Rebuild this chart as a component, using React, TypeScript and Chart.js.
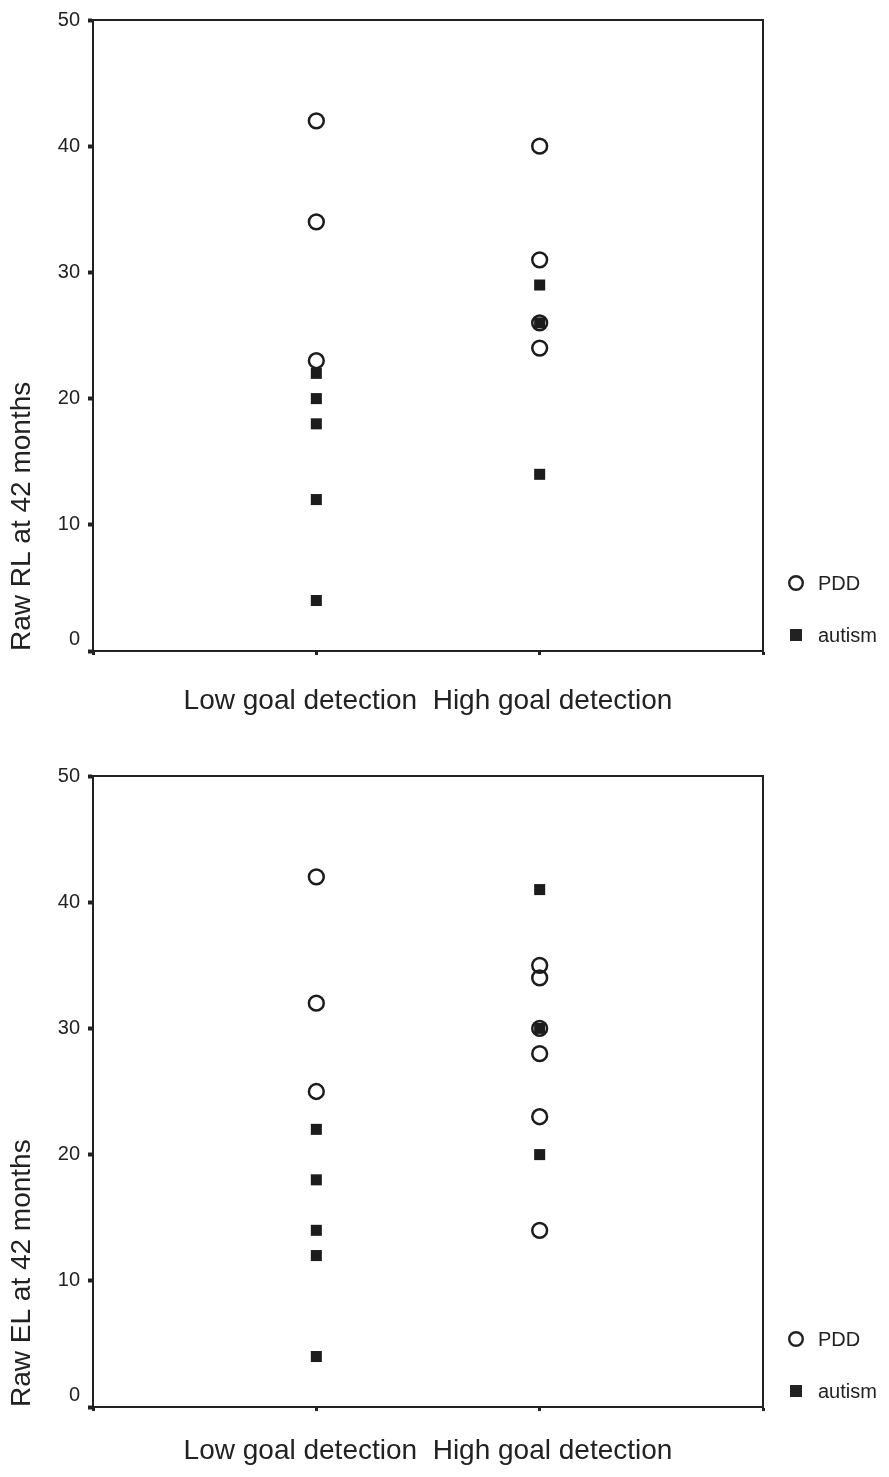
import React, { useEffect, useRef } from 'react';
import { Chart, registerables } from 'chart.js';

Chart.register(...registerables);

// ---- data ----
const categories = ['Low goal detection', 'High goal detection'];
const xAxisTitle = 'Low goal detection  High goal detection';
const seriesNames = ['PDD', 'autism'];
const yMin = 0;
const yMax = 50;
const yStep = 10;

const rlTitle = 'Raw RL at 42 months';
const rlPddLow = [42, 34, 23];
const rlPddHigh = [40, 31, 26, 24];
const rlAutismLow = [22, 20, 18, 12, 4];
const rlAutismHigh = [29, 26, 14];

const elTitle = 'Raw EL at 42 months';
const elPddLow = [42, 32, 25];
const elPddHigh = [35, 34, 30, 28, 23, 14];
const elAutismLow = [22, 18, 14, 12, 4];
const elAutismHigh = [41, 30, 20];

const FONT = "'Liberation Sans', Arial, sans-serif";
const INK = '#222222';

function toPoints(low: number[], high: number[]) {
  const groups = [low, high];
  const pts: { x: number; y: number }[] = [];
  groups.forEach((g, gi) => g.forEach((v) => pts.push({ x: gi + 1, y: v })));
  return pts;
}

const boxPlugin = {
  id: 'boxFrame',
  beforeDatasetsDraw(chart: any) {
    const { ctx, chartArea } = chart;
    ctx.save();
    ctx.strokeStyle = INK;
    ctx.lineWidth = 2;
    ctx.beginPath();
    ctx.moveTo(chartArea.left, chartArea.top);
    ctx.lineTo(chartArea.right, chartArea.top);
    ctx.lineTo(chartArea.right, chartArea.bottom);
    ctx.stroke();
    ctx.restore();
  },
};

const legendPlugin = {
  id: 'sideLegend',
  afterDraw(chart: any) {
    const { ctx, chartArea } = chart;
    const x = chartArea.right + 33;
    const rows = [chartArea.bottom - 68, chartArea.bottom - 16];
    ctx.save();
    ctx.font = `20px ${FONT}`;
    ctx.textBaseline = 'middle';
    ctx.textAlign = 'left';
    ctx.fillStyle = INK;
    // PDD
    ctx.beginPath();
    ctx.lineWidth = 2.4;
    ctx.strokeStyle = INK;
    ctx.arc(x, rows[0], 6.8, 0, Math.PI * 2);
    ctx.stroke();
    ctx.fillText(seriesNames[0], x + 22, rows[0] + 1);
    // autism
    ctx.fillRect(x - 6, rows[1] - 6, 12, 12);
    ctx.fillText(seriesNames[1], x + 22, rows[1] + 1);
    ctx.restore();
  },
};

type PanelProps = {
  title: string;
  pddLow: number[];
  pddHigh: number[];
  autismLow: number[];
  autismHigh: number[];
  height: number;
  xScaleHeight: number;
  titlePadBottom: number;
};

function Panel(props: PanelProps) {
  const ref = useRef<HTMLCanvasElement | null>(null);
  useEffect(() => {
    if (!ref.current) return;
    const chart = new Chart(ref.current, {
      type: 'scatter',
      data: {
        datasets: [
          {
            label: seriesNames[1],
            data: toPoints(props.autismLow, props.autismHigh),
            pointStyle: 'rect',
            pointRadius: 7.8,
            pointBorderWidth: 0,
            backgroundColor: '#1c1c1c',
            borderColor: '#1c1c1c',
          },
          {
            label: seriesNames[0],
            data: toPoints(props.pddLow, props.pddHigh),
            pointStyle: 'circle',
            pointRadius: 7.4,
            pointBorderWidth: 2.5,
            backgroundColor: 'rgba(0,0,0,0)',
            borderColor: '#1c1c1c',
          },
        ],
      },
      options: {
        responsive: false,
        animation: false,
        events: [],
        layout: { padding: { left: 0, top: 17, right: 126, bottom: 0 } },
        plugins: {
          legend: { display: false },
          tooltip: { enabled: false },
        },
        scales: {
          x: {
            type: 'linear',
            min: 0,
            max: categories.length + 1,
            afterBuildTicks: (scale: any) => {
              const t = [{ value: 0 }];
              categories.forEach((_, i) => t.push({ value: i + 1 }));
              t.push({ value: categories.length + 1 });
              scale.ticks = t;
            },
            afterFit: (scale: any) => {
              scale.height = props.xScaleHeight;
            },
            ticks: { callback: () => '', font: { size: 1 } },
            grid: {
              display: true,
              drawOnChartArea: false,
              drawTicks: true,
              tickLength: 4,
              tickWidth: 3,
              color: INK,
            },
            border: { display: true, width: 2, color: INK },
            title: {
              display: true,
              text: xAxisTitle,
              color: INK,
              font: { family: FONT, size: 28 },
              padding: { top: 0, bottom: props.titlePadBottom },
            },
          },
          y: {
            type: 'linear',
            min: yMin,
            max: yMax,
            ticks: {
              stepSize: yStep,
              color: INK,
              padding: 8,
              font: { family: FONT, size: 20 },
              callback: (v: any) => (v === 0 ? ['0', ''] : String(v)),
            },
            afterFit: (scale: any) => {
              scale.width = 93;
            },
            grid: {
              display: true,
              drawOnChartArea: false,
              drawTicks: true,
              tickLength: 5,
              tickWidth: 4,
              color: INK,
            },
            border: { display: true, width: 2, color: INK },
            title: {
              display: true,
              text: props.title,
              align: 'start',
              color: INK,
              font: { family: FONT, size: 28 },
              padding: { top: 5, bottom: 0 },
            },
          },
        },
      },
      plugins: [boxPlugin, legendPlugin],
    } as any);
    return () => chart.destroy();
  }, []);
  return (
    <div style={{ width: 889, height: props.height, position: 'relative' }}>
      <canvas ref={ref} width={889} height={props.height} style={{ display: 'block' }} />
    </div>
  );
}

export default function App() {
  useEffect(() => {
    document.body.style.margin = '0';
    document.body.style.background = '#ffffff';
  }, []);
  return (
    <div style={{ width: 889, height: 1477, background: '#fff', overflow: 'hidden' }}>
      <Panel
        title={rlTitle}
        pddLow={rlPddLow}
        pddHigh={rlPddHigh}
        autismLow={rlAutismLow}
        autismHigh={rlAutismHigh}
        height={756}
        xScaleHeight={105}
        titlePadBottom={38}
      />
      <Panel
        title={elTitle}
        pddLow={elPddLow}
        pddHigh={elPddHigh}
        autismLow={elAutismLow}
        autismHigh={elAutismHigh}
        height={721}
        xScaleHeight={70}
        titlePadBottom={9}
      />
    </div>
  );
}
